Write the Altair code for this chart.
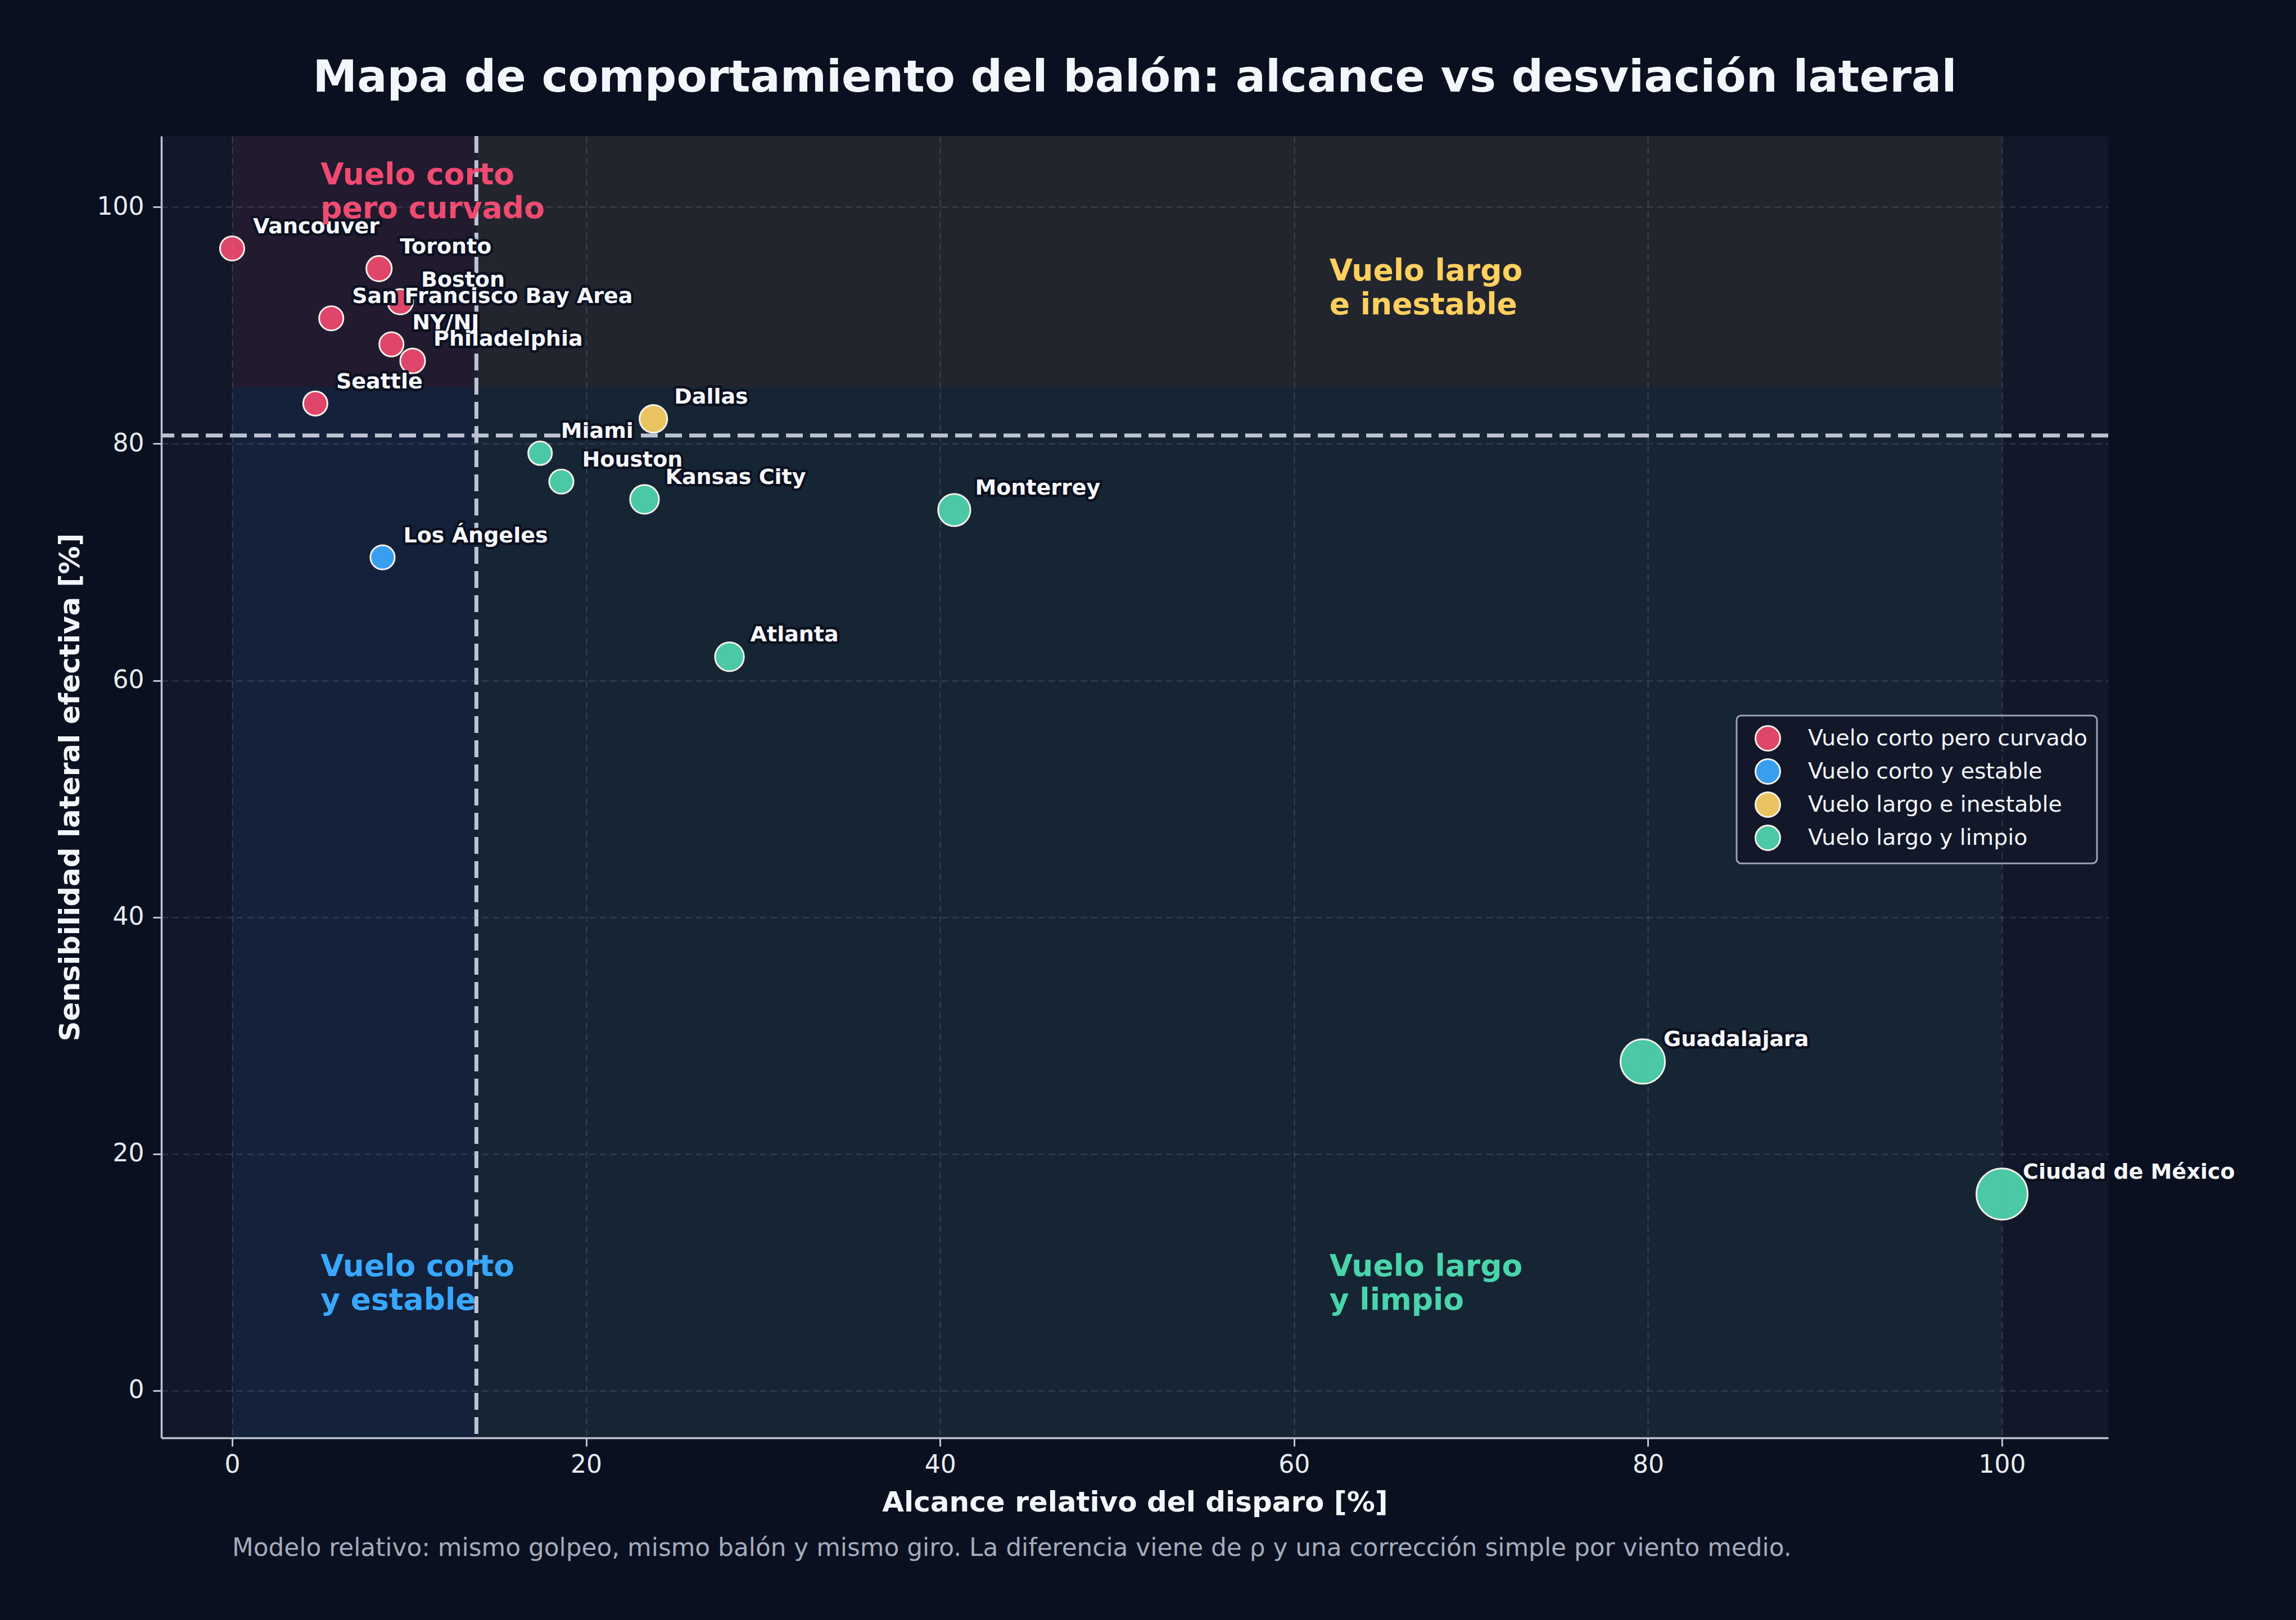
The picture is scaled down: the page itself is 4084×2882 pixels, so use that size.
import altair as alt
import pandas as pd

# ---------------- data ----------------
ciudades = ["Vancouver", "Toronto", "Boston", "San Francisco Bay Area", "NY/NJ",
            "Philadelphia", "Seattle", "Los Ángeles", "Dallas", "Miami", "Houston",
            "Kansas City", "Monterrey", "Atlanta", "Guadalajara", "Ciudad de México"]
alcance = [0.0, 8.3, 9.5, 5.6, 9.0, 10.2, 4.7, 8.5, 23.8, 17.4, 18.6, 23.3, 40.8, 28.1, 79.7, 100.0]
sensibilidad = [96.5, 94.8, 92.0, 90.6, 88.4, 87.0, 83.4, 70.4, 82.1, 79.2, 76.8, 75.3, 74.4, 62.0, 27.8, 16.6]
perfil = (["Vuelo corto pero curvado"] * 7
          + ["Vuelo corto y estable", "Vuelo largo e inestable"]
          + ["Vuelo largo y limpio"] * 7)
tamano = [46, 48, 48, 46, 46, 47, 46, 46, 52, 45, 46, 54, 60, 54, 82, 94]

categorias = ["Vuelo corto pero curvado", "Vuelo corto y estable",
              "Vuelo largo e inestable", "Vuelo largo y limpio"]
colores_cat = ["#e0456a", "#389ff0", "#ebc462", "#4bc8a5"]

umbral_alcance = 13.8
umbral_sensibilidad = 80.7
corte_zona = 84.8

zonas_x0 = [0.0, umbral_alcance, 0.0, umbral_alcance]
zonas_x1 = [umbral_alcance, 100.0, umbral_alcance, 100.0]
zonas_y0 = [corte_zona, corte_zona, -4.0, -4.0]
zonas_y1 = [106.0, 106.0, corte_zona, corte_zona]
zonas_color = ["#221a2f", "#23252e", "#14213b", "#162533"]

etiquetas_zona = ["Vuelo corto\npero curvado", "Vuelo largo\ne inestable",
                  "Vuelo corto\ny estable", "Vuelo largo\ny limpio"]
etiqueta_x = [5.0, 62.0, 5.0, 62.0]
etiqueta_y = [101.9, 93.8, 9.7, 9.7]
etiqueta_color = ["#f04a70", "#ffd05e", "#38a8ff", "#4ad4ab"]

titulo = "Mapa de comportamiento del balón: alcance vs desviación lateral"
nota = ("Modelo relativo: mismo golpeo, mismo balón y mismo giro. "
        "La diferencia viene de ρ y una corrección simple por viento medio.")

# ---------------- tables ----------------
df = pd.DataFrame({"ciudad": ciudades, "alcance": alcance, "sens": sensibilidad,
                   "perfil": perfil, "tamano": tamano})
zonas = pd.DataFrame({"x0": zonas_x0, "x1": zonas_x1, "y0": zonas_y0,
                      "y1": zonas_y1, "c": zonas_color})
zlab = pd.DataFrame({"x": etiqueta_x, "y": etiqueta_y, "t": etiquetas_zona, "c": etiqueta_color})

FONT = "DejaVu Sans"
xs = alt.Scale(domain=[-4, 106], nice=False, zero=False)
ys = alt.Scale(domain=[-4, 106], nice=False, zero=False)
ax_x = alt.Axis(title="Alcance relativo del disparo [%]", values=[0, 20, 40, 60, 80, 100],
                format="d", zindex=1, labelPadding=11, titlePadding=20)
ax_y = alt.Axis(title="Sensibilidad lateral efectiva [%]", values=[0, 20, 40, 60, 80, 100],
                format="d", zindex=1, labelPadding=16, titlePadding=22)

rects = alt.Chart(zonas).mark_rect().encode(
    x=alt.X("x0:Q", scale=xs, axis=ax_x),
    x2="x1:Q",
    y=alt.Y("y0:Q", scale=ys, axis=ax_y),
    y2="y1:Q",
    color=alt.Color("c:N", scale=None),
)

rule_h = alt.Chart(pd.DataFrame({"v": [umbral_sensibilidad]})).mark_rule(
    color="#bcc3d1", strokeWidth=7, strokeDash=[30, 13]
).encode(y=alt.Y("v:Q", scale=ys, axis=ax_y))

rule_v = alt.Chart(pd.DataFrame({"v": [umbral_alcance]})).mark_rule(
    color="#bcc3d1", strokeWidth=7, strokeDash=[30, 13]
).encode(x=alt.X("v:Q", scale=xs, axis=ax_x))

puntos = alt.Chart(df).mark_circle(opacity=1, stroke="#f5f1ea", strokeWidth=3).encode(
    x=alt.X("alcance:Q", scale=xs, axis=ax_x),
    y=alt.Y("sens:Q", scale=ys, axis=ax_y),
    color=alt.Color("perfil:N", scale=alt.Scale(domain=categorias, range=colores_cat),
                    legend=alt.Legend(title=None, orient="none", legendX=2802, legendY=1031,
                                      fillColor="#121729", strokeColor="#9aa3b5",
                                      cornerRadius=8, padding=17,
                                      symbolOffset=15, symbolSize=1936, symbolType="circle",
                                      symbolStrokeColor="#f5f1ea", symbolStrokeWidth=3,
                                      symbolOpacity=1, labelLimit=2000,
                                      labelFontSize=39.5, labelFont=FONT, labelColor="#f3f6fb",
                                      labelOffset=48, rowPadding=2)),
    size=alt.Size("tamano:Q", scale=alt.Scale(type="pow", exponent=2, domain=[40, 100],
                                              range=[1369, 9409]), legend=None),
)

borde = alt.Chart(df).mark_text(
    align="left", baseline="alphabetic", dx=37, dy=-27, font=FONT, fontSize=38,
    fontWeight="bold", color="#0b1020", stroke="#0b1020", strokeWidth=9, strokeJoin="round"
).encode(x=alt.X("alcance:Q", scale=xs, axis=ax_x), y=alt.Y("sens:Q", scale=ys, axis=ax_y),
         text="ciudad:N")

texto = alt.Chart(df).mark_text(
    align="left", baseline="alphabetic", dx=37, dy=-27, font=FONT, fontSize=38,
    fontWeight="bold", color="#f5f7fb"
).encode(x=alt.X("alcance:Q", scale=xs, axis=ax_x), y=alt.Y("sens:Q", scale=ys, axis=ax_y),
         text="ciudad:N")

zona_txt = alt.Chart(zlab).mark_text(
    align="left", baseline="alphabetic", lineBreak="\n", font=FONT, fontSize=53.5,
    fontWeight="bold", lineHeight=60
).encode(x=alt.X("x:Q", scale=xs, axis=ax_x), y=alt.Y("y:Q", scale=ys, axis=ax_y),
         text="t:N", color=alt.Color("c:N", scale=None))

nota_txt = alt.Chart(pd.DataFrame({"t": [nota]})).mark_text(
    align="left", baseline="alphabetic", font=FONT, fontSize=43.8, color="#a3acbd"
).encode(x=alt.X(datum=0, scale=xs, axis=ax_x), y=alt.value(2526), text="t:N")

chart = alt.layer(rects, rule_h, rule_v, puntos, borde, texto, zona_txt, nota_txt).properties(
    width=3463, height=2316,
    title=alt.TitleParams(text=titulo, font=FONT, fontSize=79, fontWeight="bold",
                          color="#f3f6fb", anchor="middle", baseline="alphabetic", offset=-3),
    padding={"left": 287, "top": 242, "right": 334, "bottom": 324},
    autosize=alt.AutoSizeParams(type="none"),
    background="#0b1020",
).configure_view(fill="#121729", strokeOpacity=0).configure_axis(
    domainColor="#bcc3d1", domainWidth=3.5, tickColor="#bcc3d1", tickWidth=3, tickSize=15,
    labelFont=FONT, labelFontSize=44, labelColor="#e8ecf3",
    titleFont=FONT, titleFontSize=50, titleFontWeight="bold", titleColor="#f3f6fb",
    gridColor="#94a3b8", gridOpacity=0.25, gridDash=[12, 7], gridWidth=2,
).configure_legend(strokeWidth=3)

chart.save("out.html", embed_options={"renderer": "svg", "actions": False})
